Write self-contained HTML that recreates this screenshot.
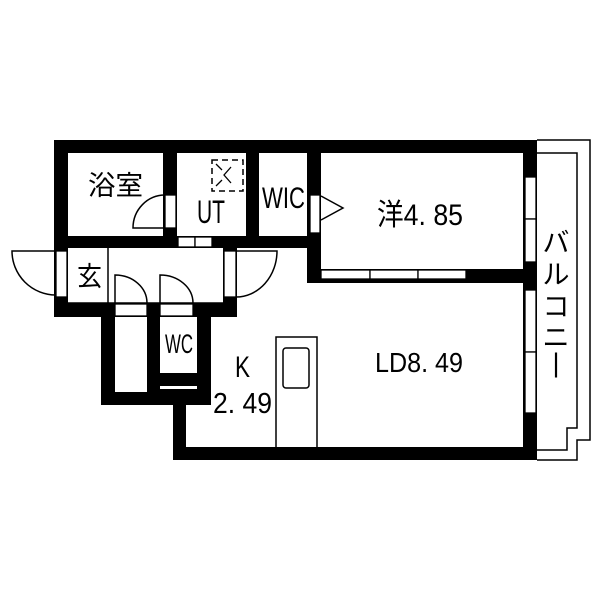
<!DOCTYPE html>
<html><head><meta charset="utf-8"><style>
html,body{margin:0;padding:0;background:#fff;width:600px;height:600px;overflow:hidden}
text{font-family:"Liberation Sans","Noto Sans CJK JP",sans-serif;fill:#000}
</style></head><body>
<svg width="600" height="600" viewBox="0 0 600 600" xmlns="http://www.w3.org/2000/svg">
<g fill="#000">
<rect x="54" y="140" width="483" height="13"/>
<rect x="54" y="140" width="14" height="177"/>
<rect x="163" y="140" width="14" height="108"/>
<rect x="246" y="140" width="13" height="108"/>
<rect x="307" y="140" width="14" height="143"/>
<rect x="54" y="236" width="267" height="12"/>
<rect x="54" y="303" width="183" height="14"/>
<rect x="223" y="236" width="14" height="81"/>
<rect x="307" y="269" width="230" height="14"/>
<rect x="523" y="140" width="14" height="320"/>
<rect x="101" y="303" width="14" height="102"/>
<rect x="147" y="303" width="13" height="102"/>
<rect x="197" y="303" width="14" height="102"/>
<rect x="101" y="392" width="110" height="13"/>
<rect x="147" y="373" width="64" height="32"/>
<rect x="173" y="392" width="13" height="68"/>
<rect x="173" y="447" width="364" height="13"/>
</g>
<g fill="#fff" stroke="#000" stroke-width="1.3">
<rect x="56" y="251" width="11" height="46"/>
<rect x="224" y="251" width="12" height="46"/>
<rect x="165" y="195" width="11" height="33"/>
<rect x="310" y="195" width="10" height="38"/>
<rect x="178" y="237" width="17" height="10"/>
<rect x="195" y="237" width="17" height="10"/>
<rect x="321" y="270" width="49" height="9"/>
<rect x="370" y="270" width="48" height="9"/>
<rect x="418" y="270" width="48" height="9"/>
<rect x="525" y="177" width="11" height="42"/>
<rect x="525" y="219" width="11" height="43"/>
<rect x="525" y="290" width="11" height="62"/>
<rect x="525" y="352" width="11" height="61"/>
<rect x="115" y="304" width="32" height="12"/>
<rect x="160" y="304" width="33" height="12"/>
<rect x="160" y="386" width="37" height="3" stroke="none"/>
</g>
<g fill="none" stroke="#000" stroke-width="1.5">
<path d="M56,251 L12,251 A44,44 0 0 0 56,295"/>
<path d="M236,251 L277,251 A41,46 0 0 1 236,297"/>
<path d="M165,195 A32,33 0 0 0 133,228 L165,228"/>
<path d="M115,303 L115,275 A32,28 0 0 1 147,303"/>
<path d="M160,303 L160,275 A33,28 0 0 1 193,303"/>
<line x1="108" y1="248" x2="108" y2="303"/>
<line x1="68" y1="303" x2="223" y2="303"/>
<path d="M321,196 L343,208 L321,220"/>
<path d="M276,447 L276,337 L317,337 L317,447"/>
<rect x="283" y="348" width="26" height="40" rx="3"/>
<rect x="212" y="160" width="31" height="31" stroke-dasharray="6,4"/>
<path d="M216,164 L222,170 M231,167 L224,175 L231,183 M222,180 L216,186" stroke-width="1.3"/>
<path d="M537,140 L590,140 L590,440 L577,440 L577,460 L537,460"/>
<path d="M537,153 L577,153 L577,428 L567,428 L567,450 L537,450"/>
</g>
<g>
<text x="88" y="195" font-size="27" textLength="55" lengthAdjust="spacingAndGlyphs">浴室</text>
<text x="197" y="223" font-size="32" textLength="28" lengthAdjust="spacingAndGlyphs">UT</text>
<text x="262" y="208" font-size="30" textLength="43" lengthAdjust="spacingAndGlyphs">WIC</text>
<text x="377" y="225" font-size="30" textLength="86" lengthAdjust="spacingAndGlyphs">洋4. 85</text>
<text x="77" y="286" font-size="27" textLength="25" lengthAdjust="spacingAndGlyphs">玄</text>
<text x="165" y="353" font-size="27" textLength="28" lengthAdjust="spacingAndGlyphs">WC</text>
<text x="235" y="377" font-size="30" textLength="15" lengthAdjust="spacingAndGlyphs">K</text>
<text x="213" y="413" font-size="29" textLength="59" lengthAdjust="spacingAndGlyphs">2. 49</text>
<text x="375" y="372" font-size="28" textLength="88" lengthAdjust="spacingAndGlyphs">LD8. 49</text>
</g>
<g font-size="27" text-anchor="middle">
<text x="556" y="252">バ</text>
<text x="556" y="284">ル</text>
<text x="556" y="316">コ</text>
<text x="556" y="347">ニ</text>
<text x="556" y="372">|</text>
</g>
</svg>
</body></html>
